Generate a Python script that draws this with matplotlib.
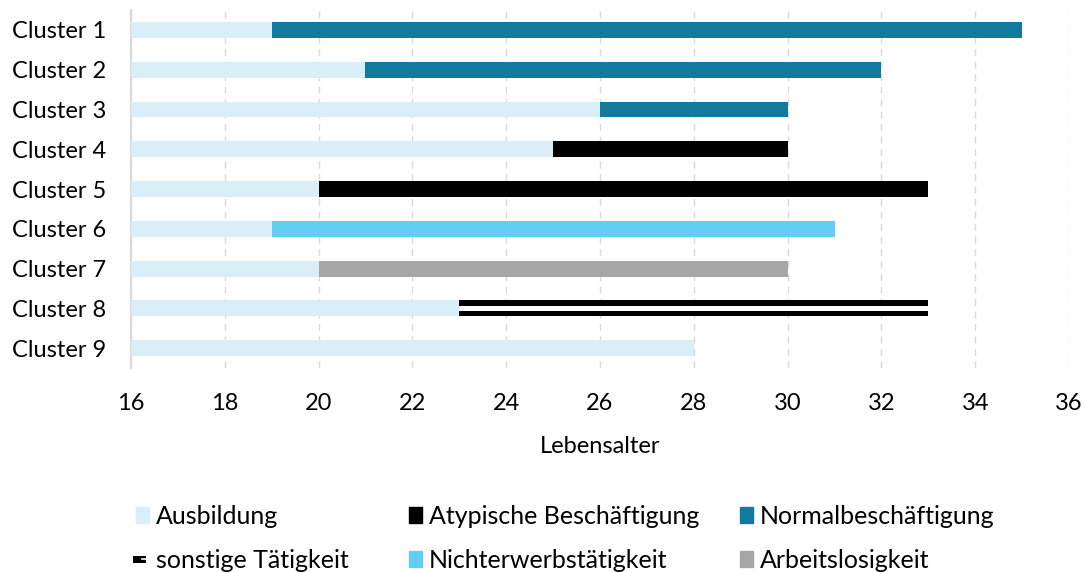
import matplotlib
matplotlib.use('Agg')
import matplotlib.pyplot as plt
from matplotlib.patches import Patch
from matplotlib.lines import Line2D
from matplotlib.legend_handler import HandlerTuple

plt.rcParams['font.family'] = ['Lato', 'DejaVu Sans']

clusters = ['Cluster 1', 'Cluster 2', 'Cluster 3', 'Cluster 4', 'Cluster 5',
            'Cluster 6', 'Cluster 7', 'Cluster 8', 'Cluster 9']
start_age = 16
ausbildung_end = [19, 21, 26, 25, 20, 19, 20, 23, 28]
second_end = [35, 32, 30, 30, 33, 31, 30, 33, None]
second_state = ['Normalbeschäftigung', 'Normalbeschäftigung', 'Normalbeschäftigung',
                'Atypische Beschäftigung', 'Atypische Beschäftigung',
                'Nichterwerbstätigkeit', 'Arbeitslosigkeit', 'sonstige Tätigkeit', None]

colors = {
    'Ausbildung': '#daeef7',
    'Atypische Beschäftigung': '#000000',
    'Normalbeschäftigung': '#117b9f',
    'Nichterwerbstätigkeit': '#63cdf4',
    'Arbeitslosigkeit': '#a6a6a6',
}

fig = plt.figure(figsize=(10.85, 5.72), dpi=100)
ax = fig.add_axes([0.1207, 0.3566, 0.8646, 0.6259])

h = 0.4
for i, name in enumerate(clusters):
    ax.barh(i, ausbildung_end[i] - start_age, left=start_age, height=h,
            color=colors['Ausbildung'], zorder=3)
    st = second_state[i]
    if st is None:
        continue
    w = second_end[i] - ausbildung_end[i]
    if st == 'sonstige Tätigkeit':
        ax.barh(i, w, left=ausbildung_end[i], height=h, color='black', zorder=3)
        ax.barh(i, w, left=ausbildung_end[i], height=h * 0.3, color='white', zorder=4)
    else:
        ax.barh(i, w, left=ausbildung_end[i], height=h, color=colors[st], zorder=3)

fs = 17
ax.set_xlim(16, 36)
ax.set_ylim(8.5, -0.5)
ax.set_xticks(range(16, 37, 2))
ax.set_yticks(range(len(clusters)))
ax.set_yticklabels(clusters)
ax.tick_params(length=0, labelsize=fs)
ax.tick_params(axis='x', pad=18)
ax.tick_params(axis='y', pad=18)
ax.grid(axis='x', color='#d9d9d9', linestyle=(0, (5, 4)), linewidth=1, zorder=0)
for s in ['top', 'right', 'bottom']:
    ax.spines[s].set_visible(False)
ax.spines['left'].set_color('#d9d9d9')
ax.spines['left'].set_linewidth(1.5)
ax.set_xlabel('Lebensalter', fontsize=fs, labelpad=16)

sonst = (Line2D([], [], color='black', linewidth=5),
         Line2D([], [], color='white', linewidth=1.2))
columns = [
    ([Patch(color=colors['Ausbildung']), sonst],
     ['Ausbildung', 'sonstige Tätigkeit'], 136),
    ([Patch(color=colors['Atypische Beschäftigung']), Patch(color=colors['Nichterwerbstätigkeit'])],
     ['Atypische Beschäftigung', 'Nichterwerbstätigkeit'], 409),
    ([Patch(color=colors['Normalbeschäftigung']), Patch(color=colors['Arbeitslosigkeit'])],
     ['Normalbeschäftigung', 'Arbeitslosigkeit'], 740),
]
for hs, ls, xpix in columns:
    fig.legend(hs, ls, loc='upper left', bbox_to_anchor=(xpix / 1085, 1 - 505 / 572),
               frameon=False, fontsize=18, handlelength=0.5, handleheight=0.6,
               handletextpad=0.3, labelspacing=0.82, borderpad=0, borderaxespad=0,
               handler_map={tuple: HandlerTuple(ndivide=None)})

fig.savefig('out.png', dpi=100)
